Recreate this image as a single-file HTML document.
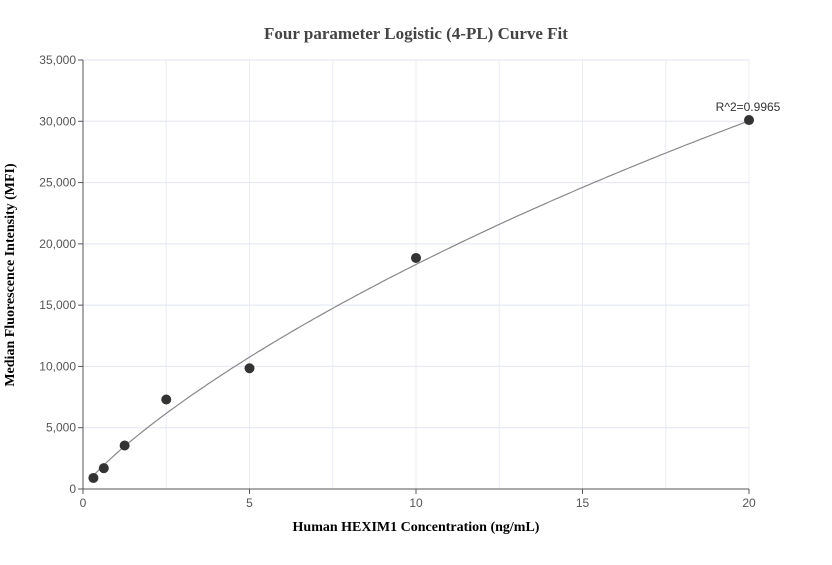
<!DOCTYPE html>
<html><head><meta charset="utf-8"><style>
html,body{margin:0;padding:0;background:#fff;}
svg text{font-family:"Liberation Sans",sans-serif;}
</style></head><body>
<svg id="chart" width="832" height="560" xmlns="http://www.w3.org/2000/svg">
<text x="416" y="39" text-anchor="middle" font-family="Liberation Serif" font-weight="bold" font-size="17" fill="#444" style="font-family:'Liberation Serif',serif">Four parameter Logistic (4-PL) Curve Fit</text>
<g id="grid"></g>
<g id="axes"></g>
<g id="series"></g>
<text x="416" y="531" text-anchor="middle" font-weight="bold" font-size="14" fill="#000" style="font-family:'Liberation Serif',serif">Human HEXIM1 Concentration (ng/mL)</text>
<text transform="translate(14,275) rotate(-90)" text-anchor="middle" font-weight="bold" font-size="14" fill="#000" style="font-family:'Liberation Serif',serif">Median Fluorescence Intensity (MFI)</text>
</svg>
<script>
const xValues=[0.3125,0.625,1.25,2.5,5,10,20];
const yValues=[900,1700,3550,7300,9850,18850,30100];
const xTicks=[0,5,10,15,20];
const yTicks=[0,5000,10000,15000,20000,25000,30000,35000];
const fitParams=[0,0.85,100,148000];
const r2Label="R^2=0.9965";
const NS="http://www.w3.org/2000/svg";
const X0=83,X1=749,Y0=489,Y1=60;
function sx(v){return X0+(v-0)/(20-0)*(X1-X0);}
function sy(v){return Y0-(v-0)/(35000-0)*(Y0-Y1);}
function mk(tag,attrs,parent){const e=document.createElementNS(NS,tag);for(const k in attrs)e.setAttribute(k,attrs[k]);parent.appendChild(e);return e;}
const grid=document.getElementById('grid'),axes=document.getElementById('axes'),series=document.getElementById('series');
for(let v=2.5;v<=20;v+=2.5){const l=mk('line',{x1:sx(v),x2:sx(v),y1:Y1,y2:Y0,stroke:'#eceef6','stroke-width':1},grid);

}
yTicks.forEach(t=>{if(t===0)return;const l=mk('line',{x1:X0,x2:X1,y1:sy(t),y2:sy(t),stroke:'#e2e5f0','stroke-width':1},grid);

});
const ya=mk('line',{x1:X0,x2:X0,y1:Y1,y2:Y0,stroke:'#555','stroke-width':1},axes);


const xa=mk('line',{x1:X0,x2:X1,y1:Y0,y2:Y0,stroke:'#555','stroke-width':1},axes);


yTicks.forEach(t=>{mk('line',{x1:X0-5,x2:X0,y1:sy(t),y2:sy(t),stroke:'#555'},axes);
const tx=mk('text',{x:X0-7,y:sy(t)+4,'text-anchor':'end','font-size':12,fill:'#555'},axes);tx.textContent=t.toLocaleString('en-US');

});
xTicks.forEach(t=>{mk('line',{x1:sx(t),x2:sx(t),y1:Y0,y2:Y0+5,stroke:'#555'},axes);
const tx=mk('text',{x:sx(t),y:Y0+18,'text-anchor':'middle','font-size':12,fill:'#555'},axes);tx.textContent=t;

});
const [a,b,c,d]=fitParams;
function f(x){return d+(a-d)/(1+Math.pow(x/c,b));}
let pts=[];const xs=xValues[0],xe=xValues[xValues.length-1];
for(let i=0;i<=200;i++){const x=xs+(xe-xs)*i/200;pts.push(sx(x).toFixed(1)+','+sy(f(x)).toFixed(1));}
const curve=mk('polyline',{points:pts.join(' '),fill:'none',stroke:'#888','stroke-width':1.2},series);


xValues.forEach((x,i)=>{const p=mk('circle',{cx:sx(x),cy:sy(yValues[i]),r:5,fill:'#333'},series);

});
const r=mk('text',{x:sx(xValues[xValues.length-1])-1,y:sy(yValues[yValues.length-1])-9,'text-anchor':'middle','font-size':12,fill:'#333'},series);
r.textContent=r2Label;


</script>
</body></html>
